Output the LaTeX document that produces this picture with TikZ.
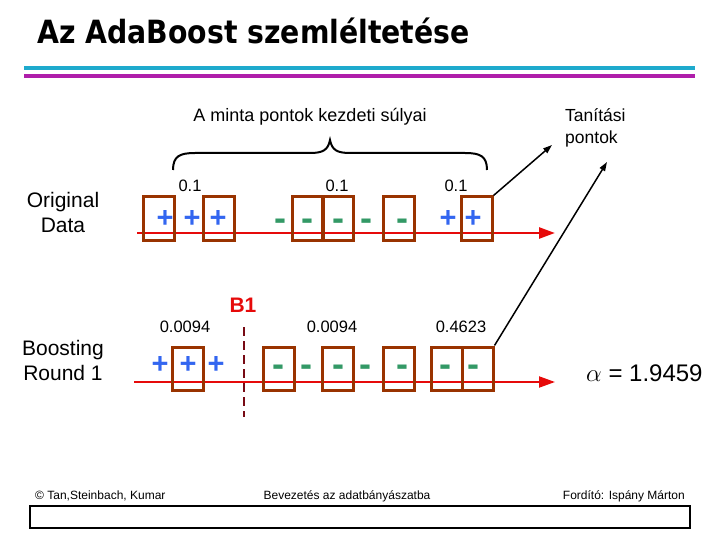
\documentclass[tikz,border=0pt]{standalone}
\usepackage{fontspec}
\setmainfont{Liberation Sans}
\newfontfamily\titlefont{DejaVu Sans}
\usetikzlibrary{arrows.meta}
\definecolor{boxbrown}{RGB}{153,51,0}
\definecolor{plusblue}{RGB}{51,102,240}
\definecolor{minusgreen}{RGB}{51,153,102}
\definecolor{axisred}{RGB}{230,10,10}
\definecolor{darkred}{RGB}{120,10,20}
\definecolor{hcyan}{RGB}{30,170,205}
\definecolor{hmag}{RGB}{175,30,170}
\begin{document}
\begin{tikzpicture}[x=1pt,y=-1pt,
  lbl/.style={font=\fontsize{16.5}{19}\selectfont, inner sep=0},
  side/.style={font=\fontsize{21}{25}\selectfont, inner sep=0, align=center},
  ptbox/.style={draw=boxbrown, line width=3pt, minimum width=31pt, minimum height=43pt, inner sep=0},
  plus/.style={text=plusblue, font=\fontsize{29}{29}\selectfont\bfseries, inner sep=0, anchor=base},
  minus/.style={text=minusgreen, font=\fontsize{36}{36}\selectfont\bfseries, inner sep=0, anchor=base},
  axis/.style={draw=axisred, line width=2.5pt, -{Triangle[length=16pt,width=11pt]}},
  pointer/.style={draw=black, line width=1.5pt, -{Triangle[length=9pt,width=6pt]}},
  foot/.style={font=\fontsize{12}{14}\selectfont, inner sep=0}]
\useasboundingbox (0,0) rectangle (720,540);
% title
\node[anchor=base west, inner sep=0, font=\titlefont\bfseries\fontsize{32}{32}\selectfont] (title) at (37,44) {\scalebox{0.885}[1]{Az AdaBoost szemléltetése}};
\draw[hcyan, line width=4pt] (24,68) -- (695,68);
\draw[hmag, line width=4pt] (24,76) -- (695,76);
% top labels
\node[font=\fontsize{18}{20}\selectfont, inner sep=0] (minta) at (310,117) {A minta pontok kezdeti súlyai};
\node[font=\fontsize{17.5}{22}\selectfont, inner sep=0, align=left, anchor=north west] (tanit) at (565,108) {Tanítási\\pontok};
% brace
\draw[line width=2pt] (173,170) .. controls (173,156) and (180,153) .. (195,153) -- (310,153) .. controls (323,153) and (328,150) .. (330,140) .. controls (332,150) and (337,153) .. (350,153) -- (465,153) .. controls (480,153) and (487,156) .. (487,170);
% row labels
\node[side] (orig) at (63,212) {Original\\Data};
\node[side] (boost) at (63,360) {Boosting\\Round 1};
% row 1
\node[lbl] (w11) at (190,186) {0.1};
\node[lbl] (w12) at (337,186) {0.1};
\node[lbl] (w13) at (456,186) {0.1};
\coordinate (a1s) at (137,233);
\coordinate (a1e) at (555,233);
\draw[axis] (a1s) -- (a1e);
\node[ptbox] (b1) at (158.5,218.5) {};
\node[ptbox] (b2) at (219,218.5) {};
\node[ptbox] (b3) at (308,218.5) {};
\node[ptbox] (b4) at (338,218.5) {};
\node[ptbox] (b5) at (398.5,218.5) {};
\node[ptbox] (b6) at (476.5,218.5) {};
\node[plus] (p11) at (165,227.5) {+};
\node[plus] (p12) at (192,227.5) {+};
\node[plus] (p13) at (218,227.5) {+};
\node[minus] (m11) at (280,230) {-};
\node[minus] (m12) at (307,230) {-};
\node[minus] (m13) at (338,230) {-};
\node[minus] (m14) at (366,230) {-};
\node[minus] (m15) at (402,230) {-};
\node[plus] (p14) at (448,227.5) {+};
\node[plus] (p15) at (473,227.5) {+};
% row 2
\node[font=\fontsize{21}{21}\selectfont\bfseries, text=axisred, inner sep=0] (B1) at (243,305) {B1};
\coordinate (d1) at (244,327);
\coordinate (d2) at (244,417);
\draw[darkred, line width=2pt, dash pattern=on 9pt off 5pt] (d1) -- (d2);
\node[lbl] (w21) at (185,327) {0.0094};
\node[lbl] (w22) at (332,327) {0.0094};
\node[lbl] (w23) at (461,327) {0.4623};
\coordinate (a2s) at (134,382);
\coordinate (a2e) at (555,382);
\draw[axis, line width=2pt] (a2s) -- (a2e);
\node[ptbox] (c1) at (188,368.5) {};
\node[ptbox] (c2) at (279,368.5) {};
\node[ptbox] (c3) at (337.5,368.5) {};
\node[ptbox] (c4) at (399,368.5) {};
\node[ptbox] (c5) at (447,368.5) {};
\node[ptbox] (c6) at (477.5,368.5) {};
\node[plus] (p21) at (160,373.5) {+};
\node[plus] (p22) at (188,373.5) {+};
\node[plus] (p23) at (216,373.5) {+};
\node[minus] (m21) at (278,376) {-};
\node[minus] (m22) at (306,376) {-};
\node[minus] (m23) at (338,376) {-};
\node[minus] (m24) at (365,376) {-};
\node[minus] (m25) at (402,376) {-};
\node[minus] (m26) at (445,376) {-};
\node[minus] (m27) at (473,376) {-};
\node[font=\fontsize{24}{24}\selectfont, inner sep=0, anchor=west] (alpha) at (586,373) {$\alpha$ = 1.9459};
% pointers
\coordinate (t1) at (552,145);
\coordinate (t2) at (607,162);
\draw[pointer] (b6.north east) -- (t1);
\draw[pointer] (c6.north east) -- (t2);
% footer
\node[foot, anchor=base west] (f1) at (35,499) {© Tan,Steinbach, Kumar};
\node[foot, anchor=base] (f2) at (347,499) {Bevezetés az adatbányászatba};
\node[foot, anchor=base east] (f3) at (685,499) {Fordító: Ispány Márton};
\node[draw=black, line width=2pt, minimum width=660pt, minimum height=22pt, inner sep=0] (fbox) at (360,517) {};
\end{tikzpicture}
\end{document}
